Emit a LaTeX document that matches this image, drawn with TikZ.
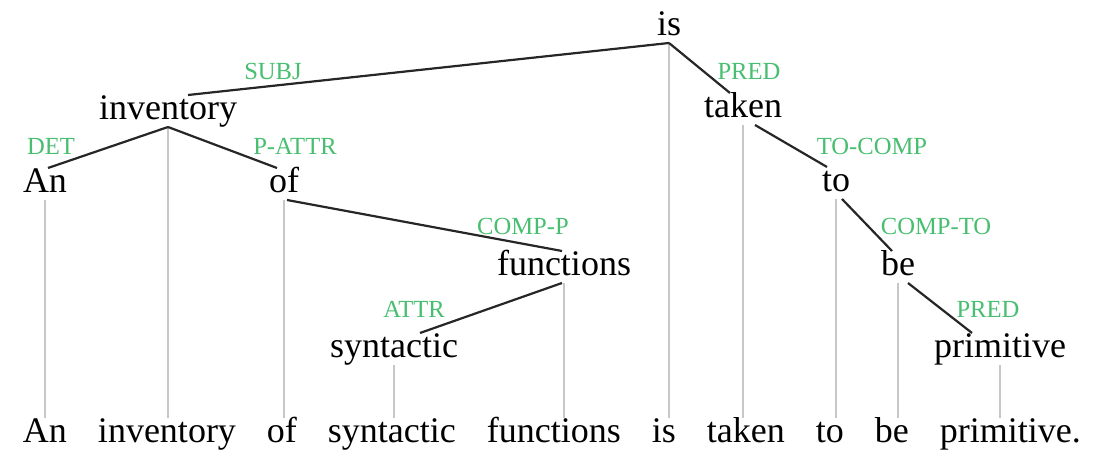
\documentclass[tikz,border=0pt]{standalone}
\usepackage{fontspec}
\setmainfont{Liberation Serif}
\usepackage{tikz}
\usetikzlibrary{positioning}
\definecolor{relgreen}{RGB}{72,190,112}

\tikzset{
	word/.style={inner sep=0pt, outer sep=0pt, anchor=base, text height=12.5pt, text depth=3.5pt, font=\fontsize{18}{20}\selectfont},
	rel/.style={inner sep=0pt, anchor=base, text=relgreen, font=\fontsize{12.3}{14}\selectfont},
	dep/.style={line width=1.1pt, black!85},
	proj/.style={line width=0.7pt, black!22}
}

\begin{document}
\begin{tikzpicture}[x=0.5pt, y=-0.5pt]
	\useasboundingbox (0,0) rectangle (1098,464);
	% tree
	\node[word] (is) at (669,36) {is};
	\node[word] (inventory) at (168,120) {inventory};
	\node[word] (taken) at (743,118) {taken};
	\node[word] (an) at (45,193) {An};
	\node[word] (of) at (284,193) {of};
	\node[word] (to) at (836,192) {to};
	\node[word] (functions) at (564,276) {functions};
	\node[word] (be) at (898,276) {be};
	\node[word] (syntactic) at (394,358) {syntactic};
	\node[word] (primitive) at (1000,358) {primitive};
	% sentence
	\node[word, anchor=base west] (an-s) at (23,443) {An};
	\node[word, base right=15.5pt of an-s] (inventory-s) {inventory};
	\node[word, base right=15.5pt of inventory-s] (of-s) {of};
	\node[word, base right=15.5pt of of-s] (syntactic-s) {syntactic};
	\node[word, base right=15.5pt of syntactic-s] (functions-s) {functions};
	\node[word, base right=15.5pt of functions-s] (is-s) {is};
	\node[word, base right=15.5pt of is-s] (taken-s) {taken};
	\node[word, base right=15.5pt of taken-s] (to-s) {to};
	\node[word, base right=15.5pt of to-s] (be-s) {be};
	\node[word, base right=15.5pt of be-s] (primitive-s) {primitive.};
	% projection lines
	\draw[proj] (an.south) -- (an.south |- an-s.north);
	\draw[proj] (inventory.south) -- (inventory.south |- inventory-s.north);
	\draw[proj] (of.south) -- (of.south |- of-s.north);
	\draw[proj] (syntactic.south) -- (syntactic.south |- syntactic-s.north);
	\draw[proj] (functions.south) -- (functions.south |- functions-s.north);
	\draw[proj] (is.south) -- (is.south |- is-s.north);
	\draw[proj] (taken.south) -- (taken.south |- taken-s.north);
	\draw[proj] (to.south) -- (to.south |- to-s.north);
	\draw[proj] (be.south) -- (be.south |- be-s.north);
	\draw[proj] (primitive.south) -- (primitive.south |- primitive-s.north);
	% dependencies
	\draw[dep] (is.south) -- ([xshift=10pt]inventory.north);
	\draw[dep] (inventory.south) -- ([xshift=1.5pt]an.north);
	\draw[dep] (inventory.south) -- ([xshift=-3.5pt]of.north);
	\draw[dep] ([xshift=1.5pt]of.south) -- ([xshift=-1pt]functions.north);
	\draw[dep] ([xshift=-1pt]functions.south) -- ([xshift=13pt]syntactic.north);
	\draw[dep] (is.south) -- ([xshift=-6.5pt]taken.north);
	\draw[dep] ([xshift=6pt]taken.south) -- ([xshift=-4.5pt]to.north);
	\draw[dep] ([xshift=3pt]to.south) -- ([xshift=-3pt]be.north);
	\draw[dep] ([xshift=5pt]be.south) -- ([xshift=-14pt]primitive.north);
	% relation labels
	\node[rel] (subj) at (273,80) {SUBJ};
	\node[rel] (det) at (51,155) {DET};
	\node[rel] (pattr) at (295,155) {P-ATTR};
	\node[rel] (compp) at (523,235) {COMP-P};
	\node[rel] (attr) at (414,318) {ATTR};
	\node[rel] (pred) at (749,80) {PRED};
	\node[rel] (tocomp) at (872,155) {TO-COMP};
	\node[rel] (compto) at (936,235) {COMP-TO};
	\node[rel] (predb) at (988,318) {PRED};
\end{tikzpicture}
\end{document}
